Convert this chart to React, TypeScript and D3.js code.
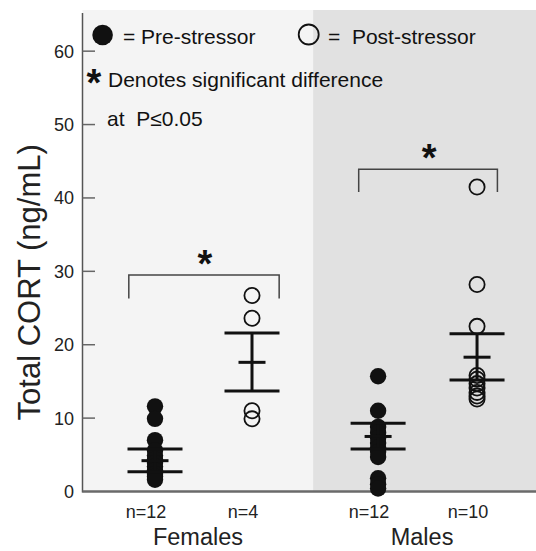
import React from "react";
import * as d3 from "d3";

const sexes = ["Females", "Males"];
const columns = ["Females pre", "Females post", "Males pre", "Males post"];
const columnPos = [1, 2, 3.3, 4.32];
const sexExtent = [
  [0.25, 2.63],
  [2.63, 5.1],
];
const femalePre = [11.6, 9.9, 7.0, 5.6, 4.9, 4.4, 3.9, 3.4, 2.9, 2.4, 2.0, 1.6];
const femalePost = [26.7, 23.6, 11.0, 9.9];
const malePre = [15.7, 11.0, 8.8, 8.0, 7.3, 6.6, 6.0, 5.4, 4.7, 1.8, 1.0, 0.4];
const malePost = [41.5, 28.2, 22.5, 15.8, 15.3, 14.7, 14.1, 13.5, 13.0, 12.6];
const means = [4.2, 17.6, 7.5, 18.3];
const errLow = [2.7, 13.7, 5.8, 15.2];
const errHigh = [5.8, 21.6, 9.3, 21.5];
const nLabels = ["n=12", "n=4", "n=12", "n=10"];
const bracketTop = [29.5, 43.9];
const bracketBottom = [26.3, 40.8];
const bracketEnds = [
  [0.73, 2.28],
  [3.1, 4.53],
];
const yTicks = [0, 10, 20, 30, 40, 50, 60];

const W = 536;
const H = 551;
const FONT = "'Liberation Sans', Arial, Helvetica, sans-serif";

export default function App() {
  const left = 82.5;
  const right = 536;
  const top = 13;
  const bottom = 491.5;

  const y = d3.scaleLinear().domain([0, 65.2]).range([bottom, top]);
  const x = d3.scaleLinear().domain([1, 2]).range([155, 252]);

  const series = [femalePre, femalePost, malePre, malePost];
  const isPre = [true, false, true, false];

  const bgColors = ["#f4f4f4", "#e1e1e1"];
  const capHalf = 27.5;
  const midHalf = 13.5;

  return (
    <svg width={W} height={H} style={{ display: "block", position: "absolute", left: 0, top: 0 }} fontFamily={FONT}>
      <rect x={0} y={0} width={W} height={H} fill="#ffffff" />
      {sexes.map((s, i) => {
        const x0 = Math.max(left, x(sexExtent[i][0]));
        const x1 = Math.min(right, x(sexExtent[i][1]));
        return <rect key={s} x={x0} y={10} width={x1 - x0} height={bottom - 10} fill={bgColors[i]} />;
      })}

      {/* axes */}
      <line x1={left} x2={left} y1={top} y2={bottom + 1} stroke="#555" strokeWidth={1.5} />
      <line x1={left} x2={right} y1={bottom} y2={bottom} stroke="#6a6a6a" strokeWidth={2.5} />
      {yTicks.map((t) => (
        <g key={t}>
          {t > 0 && <line x1={left} x2={left + 12.5} y1={y(t)} y2={y(t)} stroke="#666" strokeWidth={1.5} />}
          <text x={74} y={y(t)} dy="0.36em" textAnchor="end" fontSize={18} fill="#222">
            {t}
          </text>
        </g>
      ))}
      <text transform={`translate(40, ${y(28.5)}) rotate(-90)`} textAnchor="middle" fontSize={31} fill="#222">
        Total CORT (ng/mL)
      </text>

      {/* brackets */}
      {sexes.map((s, i) => {
        const x1 = x(bracketEnds[i][0]);
        const x2 = x(bracketEnds[i][1]);
        const yt = y(bracketTop[i]);
        const yb = y(bracketBottom[i]);
        return (
          <g key={"br" + s}>
            <path d={`M${x1},${yb}V${yt}H${x2}V${yb}`} fill="none" stroke="#444" strokeWidth={1.5} />
            <text x={(x1 + x2) / 2 + 1} y={yt + 2} textAnchor="middle" fontSize={38} fontWeight="bold" fill="#111">
              *
            </text>
          </g>
        );
      })}

      {/* points */}
      {series.map((vals, si) => {
        const cx = x(columnPos[si]);
        return (
          <g key={"pts" + columns[si]}>
            {vals.map((v, j) =>
              isPre[si] ? (
                <circle key={j} cx={cx} cy={y(v)} r={8.2} fill="#111" />
              ) : (
                <circle key={j} cx={cx} cy={y(v)} r={7.6} fill="none" stroke="#111" strokeWidth={1.8} />
              )
            )}
          </g>
        );
      })}

      {/* mean and error bars */}
      {series.map((_, si) => {
        const cx = x(columnPos[si]);
        return (
          <g key={"err" + si} stroke="#111" strokeWidth={3}>
            <line x1={cx} x2={cx} y1={y(errHigh[si])} y2={y(errLow[si])} />
            <line x1={cx - capHalf} x2={cx + capHalf} y1={y(errHigh[si])} y2={y(errHigh[si])} />
            <line x1={cx - capHalf} x2={cx + capHalf} y1={y(errLow[si])} y2={y(errLow[si])} />
            <line x1={cx - midHalf} x2={cx + midHalf} y1={y(means[si])} y2={y(means[si])} />
          </g>
        );
      })}

      {/* n labels */}
      {columns.map((c, si) => (
        <text key={"n" + c} x={x(columnPos[si]) - 9} y={518} textAnchor="middle" fontSize={18} fill="#222">
          {nLabels[si]}
        </text>
      ))}
      {sexes.map((s, i) => (
        <text
          key={"lab" + s}
          x={(x(columnPos[2 * i]) + x(columnPos[2 * i + 1])) / 2 - 5.5}
          y={545}
          textAnchor="middle"
          fontSize={23.5}
          fill="#222"
        >
          {s}
        </text>
      ))}

      {/* legend */}
      <circle cx={102.6} cy={35} r={10.3} fill="#111" />
      <text x={123} y={44} fontSize={21} fill="#111">= Pre-stressor</text>
      <circle cx={308.7} cy={34.5} r={10} fill="none" stroke="#111" strokeWidth={1.8} />
      <text x={328} y={44} fontSize={21} fill="#111" style={{ whiteSpace: "pre" }}>{"=  Post-stressor"}</text>
      <text x={94} y={96} textAnchor="middle" fontSize={38} fontWeight="bold" fill="#111">*</text>
      <text x={108} y={87} fontSize={21} fill="#111">Denotes significant difference</text>
      <text x={107} y={126} fontSize={21} fill="#111" style={{ whiteSpace: "pre" }}>{"at  P≤0.05"}</text>
    </svg>
  );
}
